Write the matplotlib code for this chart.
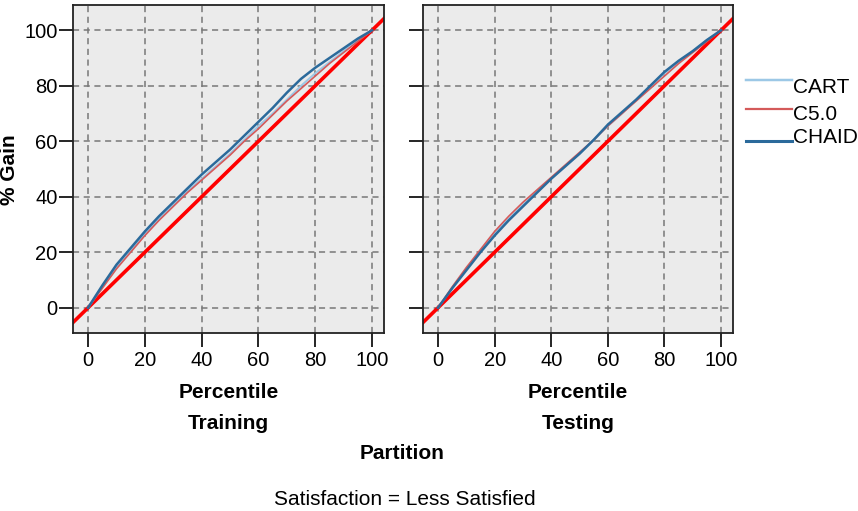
import matplotlib.pyplot as plt
from matplotlib.lines import Line2D

plt.rcParams['font.family'] = ['Liberation Sans', 'DejaVu Sans']

pct = [0, 5, 10, 15, 20, 25, 30, 35, 40, 45, 50, 55, 60, 65, 70, 75, 80, 85, 90, 95, 100]

# gain curves, training partition
train_cart = [0, 7.5, 14.5, 20.5, 26.5, 32, 37, 42, 46.5, 51, 55.5, 60.5, 65.5, 70, 75, 80, 84.5, 88.5, 92.5, 96.5, 100]
train_c50 = [0, 7, 14, 20, 26, 31.5, 36.5, 41.5, 46, 50.5, 55, 60, 64.5, 69.5, 74.5, 79, 83.5, 88, 92, 96, 100]
train_chaid = [0, 8, 15.5, 21.5, 27.5, 33, 38, 43, 48, 52.5, 57, 62, 67, 72, 77.5, 82.5, 86.5, 90, 93.5, 97, 100]

# gain curves, testing partition
test_cart = [0, 7, 14, 20.5, 27, 32, 37, 42, 46.5, 51, 55.5, 60.5, 65.5, 70, 75, 79.5, 84.5, 88.5, 92.5, 96.5, 100]
test_c50 = [0, 7.5, 14.5, 21, 27.5, 33, 38, 42.5, 47, 51.5, 56, 60.5, 65.5, 70, 74.5, 79, 83.5, 88, 92, 96, 100]
test_chaid = [0, 7, 13.5, 20, 26, 31.5, 36.5, 41.5, 46.5, 51, 55.5, 60.5, 66, 70.5, 75, 80, 85, 89, 92.5, 96.5, 100]

baseline = [-10, 110]
ticks = [0, 20, 40, 60, 80, 100]

models = ['CART', 'C5.0', 'CHAID']
colors = ['#9CC8E6', '#D45A5A', '#2B6A9B']
widths = [1.4, 1.2, 1.8]

W, H = 858, 511
fig = plt.figure(figsize=(W / 100, H / 100), dpi=100)

def panel(x0, x1, series, name):
    ax = fig.add_axes([x0 / W, (H - 333) / H, (x1 - x0) / W, 328 / H])
    ax.set_facecolor('#EBEBEB')
    ax.set_axisbelow(True)
    ax.grid(True, linestyle=(0, (4, 3)), color='#777777', linewidth=1.1)
    ax.plot(baseline, baseline, color='#FF0000', linewidth=2.6, zorder=2)
    for i, ys in enumerate(series):
        ax.plot(pct, ys, color=colors[i], linewidth=widths[i], label=models[i], zorder=3 + i)
    ax.set_xlim(-5.3, 104.2)
    ax.set_ylim(-9.1, 109.1)
    ax.set_xticks(ticks)
    ax.set_yticks(ticks)
    ax.tick_params(direction='out', length=10, width=1.2, labelsize=14.5, color='black')
    ax.tick_params(axis='x', pad=3)
    ax.tick_params(axis='y', pad=1)
    for s in ax.spines.values():
        s.set_linewidth(1.3)
        s.set_color('#222222')
    cx = (x0 + x1) / 2 / W
    fig.text(cx, 1 - 392 / H, 'Percentile', ha='center', va='center', fontsize=15, fontweight='bold')
    fig.text(cx, 1 - 423 / H, name, ha='center', va='center', fontsize=15, fontweight='bold')
    return ax

ax1 = panel(73, 384, [train_cart, train_c50, train_chaid], 'Training')
ax2 = panel(423, 733, [test_cart, test_c50, test_chaid], 'Testing')
ax2.tick_params(labelleft=False)

fig.text(10 / W, 1 - 170 / H, '% Gain', rotation=90, ha='center', va='center', fontsize=15, fontweight='bold')
fig.text(402 / W, 1 - 453 / H, 'Partition', ha='center', va='center', fontsize=15, fontweight='bold')
fig.text(405 / W, 1 - 499 / H, 'Satisfaction = Less Satisfied', ha='center', va='center', fontsize=15)

# legend keys drawn by hand: swatch line then label
line_y = [80, 109, 141]
text_y = [87.5, 114.5, 137.5]
for i in range(3):
    fig.add_artist(Line2D([746 / W, 792 / W], [1 - line_y[i] / H] * 2, transform=fig.transFigure,
                          color=colors[i], linewidth=widths[i] + 0.4))
    fig.text(793 / W, 1 - text_y[i] / H, models[i], ha='left', va='center', fontsize=15)

fig.savefig('out.png', dpi=100)
